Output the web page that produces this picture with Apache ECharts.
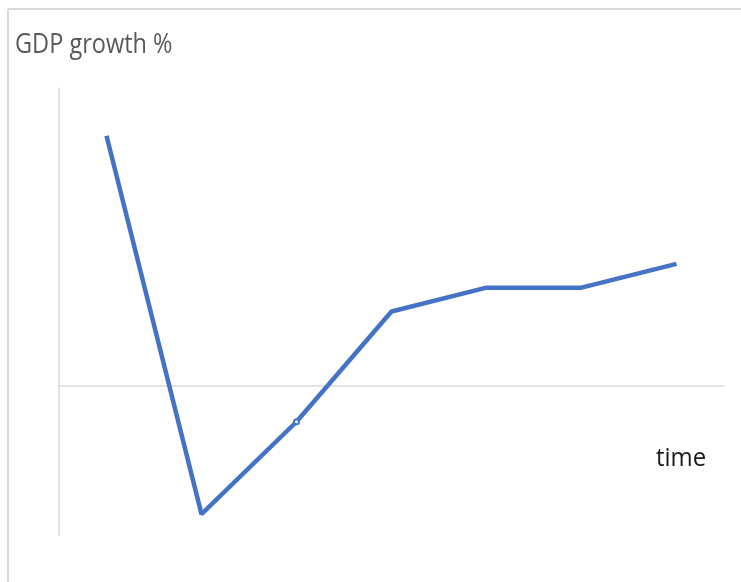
<!DOCTYPE html>
<html>
<head>
<meta charset="utf-8">
<script src="https://cdn.jsdelivr.net/npm/echarts@6/dist/echarts.min.js"></script>
<style>
  html, body { margin: 0; padding: 0; background: #fff; }
  #chart { width: 741px; height: 582px; }
</style>
</head>
<body>
<div id="chart"></div>
<script>
  // periods along the time axis (no labels shown)
  var periods = ['t1', 't2', 't3', 't4', 't5', 't6', 't7'];
  // GDP growth, %
  var growth = [8.4, -4.3, -1.2, 2.5, 3.3, 3.3, 4.1];

  var chart = echarts.init(document.getElementById('chart'));

  var option = {
    animation: false,
    grid: { left: 59, right: 17, top: 88, bottom: 47 },
    xAxis: {
      type: 'category',
      data: periods,
      boundaryGap: true,
      axisLine: { onZero: true, lineStyle: { color: '#d9d9d9', width: 1.5 } },
      axisTick: { show: false },
      axisLabel: { show: false },
      splitLine: { show: false }
    },
    yAxis: {
      type: 'value',
      min: -5,
      max: 10,
      axisLine: { show: true, lineStyle: { color: '#d9d9d9', width: 1.5 } },
      axisTick: { show: false },
      axisLabel: { show: false },
      splitLine: { show: false }
    },
    series: [{
      type: 'line',
      data: growth.map(function (v, i) {
        // the one small hollow marker on the third point
        if (i === 2) return { value: v, symbol: 'emptyCircle', symbolSize: 5 };
        return v;
      }),
      showSymbol: true,
      symbol: 'none',
      lineStyle: { color: '#4472c4', width: 4.5 },
      itemStyle: { color: '#4472c4', borderColor: '#ffffff', borderWidth: 1 }
    }],
    graphic: [
      // frame, top and left edges
      { type: 'line', shape: { x1: 8, y1: 9, x2: 741, y2: 9 }, style: { stroke: '#d9d9d9', lineWidth: 2 } },
      { type: 'line', shape: { x1: 8, y1: 9, x2: 8, y2: 582 }, style: { stroke: '#d9d9d9', lineWidth: 2 } },
      {
        type: 'text', x: 15, y: 31, scaleX: 0.84,
        style: { text: 'GDP growth %', fill: '#595959', font: '28px "Open Sans", sans-serif' }
      },
      {
        type: 'text', x: 656, y: 446, scaleX: 0.92,
        style: { text: 'time', fill: '#1a1a1a', font: '26px "Open Sans", sans-serif' }
      }
    ]
  };

  chart.setOption(option);
</script>
</body>
</html>
